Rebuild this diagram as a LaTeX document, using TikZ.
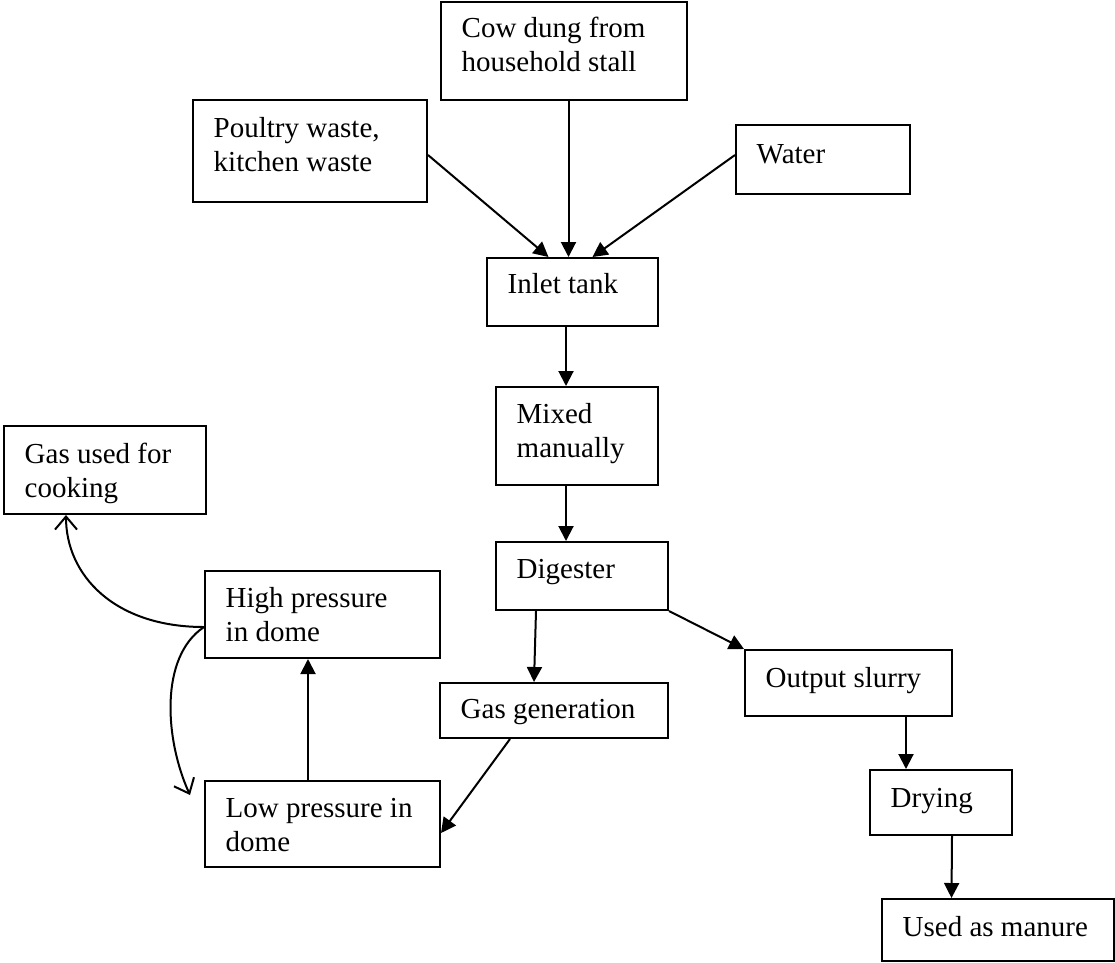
\documentclass[tikz,border=0pt]{standalone}
\usepackage{fontspec}
\setmainfont{Liberation Serif}
\usetikzlibrary{arrows.meta}
\newcommand{\flowbox}[7]{%
  \node[boxstyle, minimum width={#4-#2}, minimum height={#5-#3}] (#1) at (#2,#3) {};
  \node[txt] (#1t) at (#2+21.5,#6) {\begin{tabular}[t]{@{}l@{}}#7\end{tabular}};}
\begin{document}
\begin{tikzpicture}[x=1pt,y=-1pt,
  boxstyle/.style={draw, line width=2pt, inner sep=0pt, anchor=north west},
  txt/.style={anchor=base west, inner sep=0pt, font=\fontsize{29}{34}\selectfont},
  flow/.style={line width=2pt, -{Triangle[length=15pt,width=15pt]}},
  curvedflow/.style={line width=2pt, -{Straight Barb[length=13pt,width=22pt]}}]
\useasboundingbox (0,0) rectangle (1115,962);

\flowbox{cow}{440}{1}{686}{99}{37}{Cow dung from\\household stall}
\flowbox{poultry}{192}{99}{426}{201}{137}{Poultry waste,\\kitchen waste}
\flowbox{water}{735}{124}{909}{193}{163}{Water}
\flowbox{inlet}{486}{257}{657}{325}{293}{Inlet tank}
\flowbox{mixed}{495}{386}{657}{484}{423}{Mixed\\manually}
\flowbox{cook}{3}{425}{205}{513}{463}{Gas used for\\cooking}
\flowbox{dig}{495}{541}{667}{609}{578}{Digester}
\flowbox{hp}{204}{570}{439}{657}{607}{High pressure\\in dome}
\flowbox{gg}{439}{682}{667}{737}{718}{Gas generation}
\flowbox{slurry}{744}{649}{951}{715}{687}{Output slurry}
\flowbox{lp}{204}{780}{439}{866}{817}{Low pressure in\\dome}
\flowbox{dry}{869}{769}{1011}{834}{807}{Drying}
\flowbox{manure}{881}{898}{1113}{960}{936}{Used as manure}

\draw[flow] ([yshift=-4pt]poultry.east) -- ([xshift=-24pt]inlet.north);
\draw[flow] ([xshift=4.5pt]cow.south) -- ([xshift=-4pt]inlet.north);
\draw[flow] ([yshift=4.5pt]water.west) -- ([xshift=20pt]inlet.north);
\draw[flow] ([xshift=-6.5pt]inlet.south) -- ([xshift=-11pt]mixed.north);
\draw[flow] ([xshift=-11pt]mixed.south) -- ([xshift=-16pt]dig.north);
\draw[flow] ([xshift=-46pt]dig.south) -- ([xshift=-20pt]gg.north);
\draw[flow] (dig.south east) -- (slurry.north west);
\draw[flow] ([xshift=57.5pt]slurry.south) -- ([xshift=-35pt]dry.north);
\draw[flow] ([xshift=11pt]dry.south) -- ([xshift=-46.5pt]manure.north);
\draw[flow] ([xshift=-44pt]gg.south) -- ([yshift=-9pt]lp.east);
\draw[flow] ([xshift=-14.5pt]lp.north) -- ([xshift=-14.5pt]hp.south);

\coordinate (hpout) at ([yshift=-12.5pt]hp.west);
\coordinate (lpin) at ([xshift=-14pt,yshift=-15pt]lp.north west);
\draw[curvedflow] (hpout) .. controls +(-90,0) and +(0,60) .. ([xshift=-39pt]cook.south);
\draw[curvedflow] (hpout) .. controls +(-45,30) and +(-25,-55) .. (lpin);
\end{tikzpicture}
\end{document}
